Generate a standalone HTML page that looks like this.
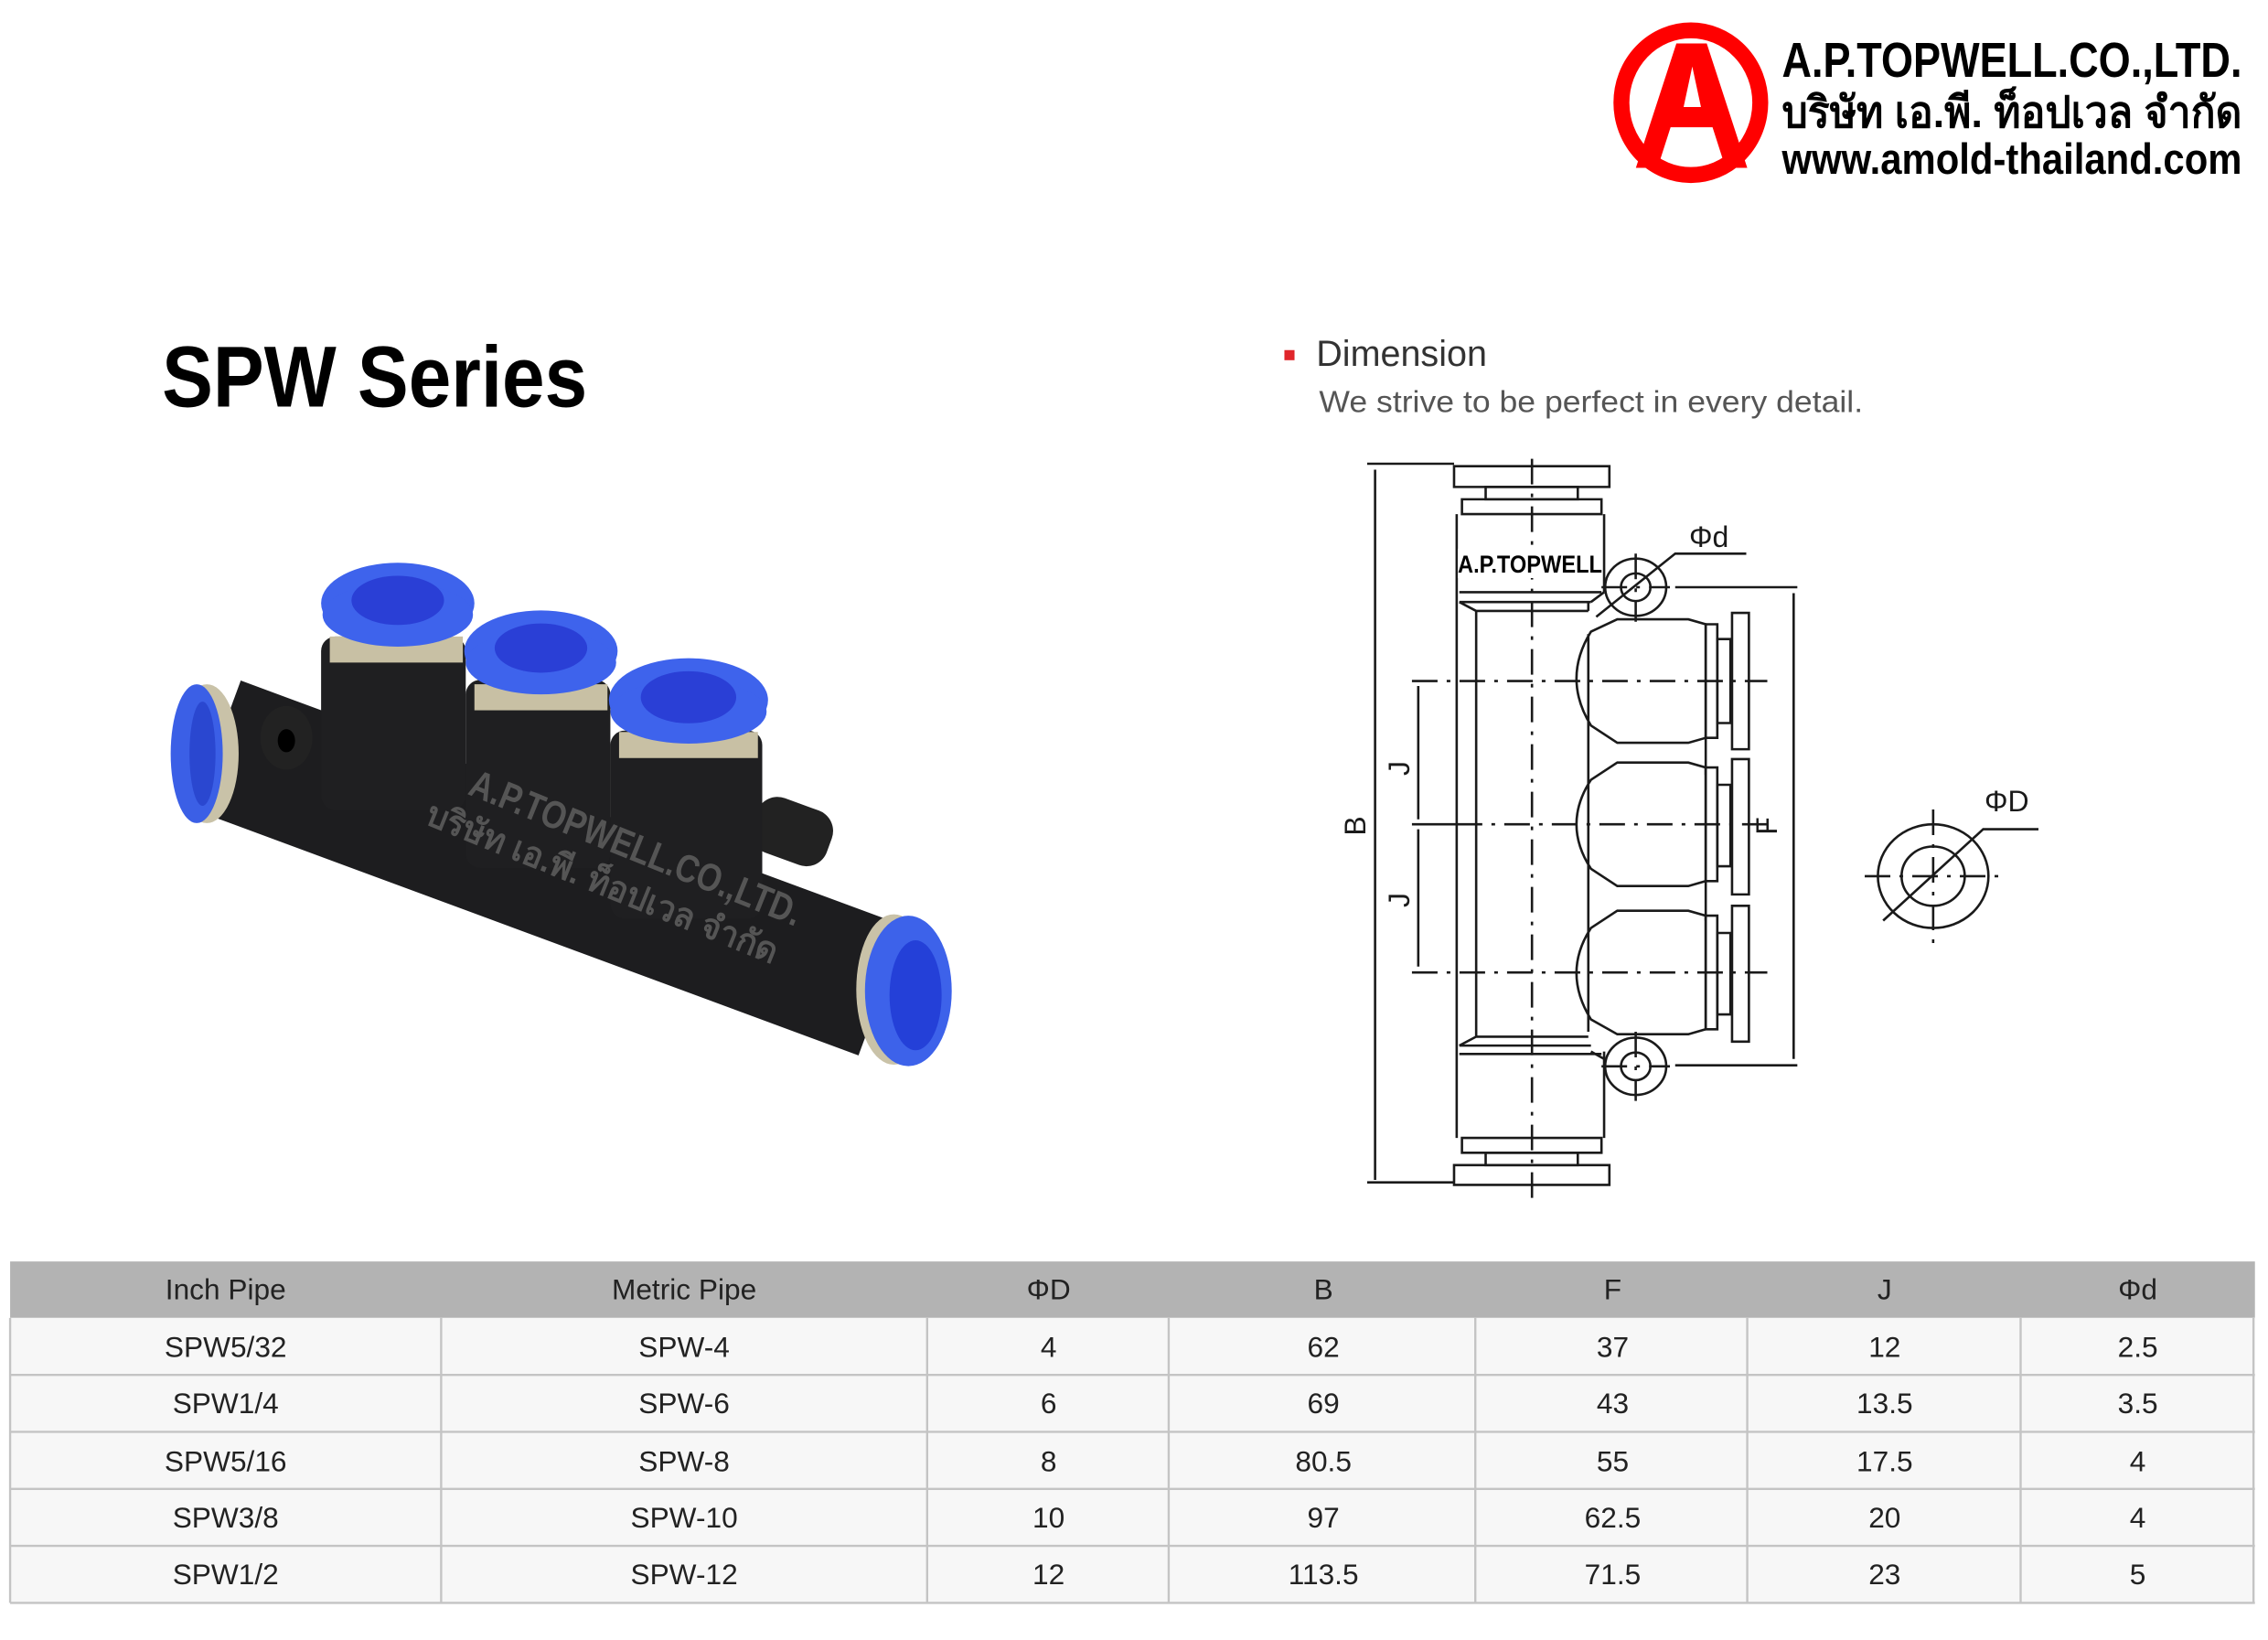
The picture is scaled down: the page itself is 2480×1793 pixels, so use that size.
<!DOCTYPE html>
<html><head><meta charset="utf-8"><style>
html,body{margin:0;padding:0;background:#fff;}
svg{display:block}
text{font-family:"Liberation Sans","DejaVu Sans",sans-serif}
</style></head><body>
<svg width="2480" height="1793" viewBox="0 0 2480 1793" xmlns="http://www.w3.org/2000/svg">
<rect width="2480" height="1793" fill="#fff"/>

<!-- display-coord group -->
<g transform="scale(1.5816)">
  <!-- logo -->
  <ellipse cx="1169" cy="71" rx="48" ry="50" fill="#fff" stroke="#f00" stroke-width="11"/>
  <polygon points="1159,30 1180,30 1208,116 1193,116 1184,88 1155,88 1146,116 1131,116" fill="#f00"/>
  <polygon points="1164,74 1170,46 1176,74" fill="#fff"/>
  <text x="1232" y="53" font-size="34" font-weight="bold" textLength="318" lengthAdjust="spacingAndGlyphs">A.P.TOPWELL.CO.,LTD.</text>
  <text x="1232" y="88" font-size="30" font-weight="bold" textLength="318" lengthAdjust="spacingAndGlyphs">บริษัท เอ.พี. ท็อปเวล จำกัด</text>
  <text x="1232" y="120" font-size="30" font-weight="bold" textLength="318" lengthAdjust="spacingAndGlyphs">www.amold-thailand.com</text>

  <text x="112" y="281" font-size="60" font-weight="bold" textLength="294" lengthAdjust="spacingAndGlyphs">SPW Series</text>

  <rect x="888" y="242" width="7" height="7" fill="#e0262b"/>
  <text x="910" y="253" font-size="25" fill="#333">Dimension</text>
  <text x="912" y="285" font-size="21" fill="#555" textLength="376" lengthAdjust="spacingAndGlyphs">We strive to be perfect in every detail.</text>

  <!-- product photo -->
  <g>
    <line x1="150" y1="515" x2="610" y2="685" stroke="#1d1d1f" stroke-width="95"/>
    <ellipse cx="143" cy="521" rx="22" ry="48" fill="#c9c2a8"/>
    <ellipse cx="136" cy="521" rx="18" ry="48" fill="#3b5fe6"/>
    <ellipse cx="140" cy="521" rx="9" ry="36" fill="#2a47d0"/>
    <ellipse cx="618" cy="684" rx="26" ry="52" fill="#c9c2a8"/>
    <ellipse cx="628" cy="685" rx="30" ry="52" fill="#3d62ea"/>
    <ellipse cx="633" cy="688" rx="18" ry="38" fill="#2440d8"/>
    <!-- tabs -->
    <ellipse cx="198" cy="510" rx="18" ry="22" fill="#222"/>
    <ellipse cx="198" cy="512" rx="6" ry="8" fill="#000"/>
    <rect x="520" y="555" width="55" height="40" rx="15" fill="#222" transform="rotate(20 548 575)"/>
    <!-- uprights -->
    <g fill="#1f1f21">
      <rect x="222" y="440" width="100" height="120" rx="10"/>
      <rect x="322" y="470" width="100" height="130" rx="10"/>
      <rect x="422" y="505" width="105" height="130" rx="10"/>
    </g>
    <g>
      <rect x="228" y="440" width="92" height="18" fill="#c8c0a4"/>
      <rect x="328" y="473" width="92" height="18" fill="#c8c0a4"/>
      <rect x="428" y="506" width="96" height="18" fill="#c8c0a4"/>
      <ellipse cx="275" cy="417" rx="53" ry="28" fill="#3e63ec"/>
      <ellipse cx="275" cy="425" rx="52" ry="22" fill="#3e63ec"/>
      <ellipse cx="275" cy="415" rx="32" ry="17" fill="#2a3fd6"/>
      <ellipse cx="374" cy="450" rx="53" ry="28" fill="#3e63ec"/>
      <ellipse cx="374" cy="458" rx="52" ry="22" fill="#3e63ec"/>
      <ellipse cx="374" cy="448" rx="32" ry="17" fill="#2a3fd6"/>
      <ellipse cx="476" cy="484" rx="55" ry="29" fill="#3e63ec"/>
      <ellipse cx="476" cy="492" rx="54" ry="22" fill="#3e63ec"/>
      <ellipse cx="476" cy="482" rx="33" ry="18" fill="#2a3fd6"/>
    </g>
    <g transform="rotate(22 420 615)" fill="#555" font-weight="bold">
      <text x="305" y="590" font-size="27" textLength="245" lengthAdjust="spacingAndGlyphs">A.P.TOPWELL.CO.,LTD.</text>
      <text x="285" y="620" font-size="24" textLength="260" lengthAdjust="spacingAndGlyphs">บริษัท เอ.พี. ท็อปเวล จำกัด</text>
    </g>
  </g>

  <!-- table -->
  <rect x="7" y="872" width="1552" height="39" fill="#b3b3b3"/>
  <rect x="7" y="911" width="1552" height="197" fill="#f7f7f7"/>
  <g stroke="#c4c4c4" stroke-width="1.5">
    <line x1="7" y1="950.4" x2="1559" y2="950.4"/>
    <line x1="7" y1="989.8" x2="1559" y2="989.8"/>
    <line x1="7" y1="1029.2" x2="1559" y2="1029.2"/>
    <line x1="7" y1="1068.6" x2="1559" y2="1068.6"/>
    <line x1="7" y1="1108" x2="1559" y2="1108"/>
    <line x1="7" y1="911" x2="7" y2="1108"/>
    <line x1="1558" y1="911" x2="1558" y2="1108"/>
    <line x1="305" y1="911" x2="305" y2="1108"/>
    <line x1="641" y1="911" x2="641" y2="1108"/>
    <line x1="808" y1="911" x2="808" y2="1108"/>
    <line x1="1020" y1="911" x2="1020" y2="1108"/>
    <line x1="1208" y1="911" x2="1208" y2="1108"/>
    <line x1="1397" y1="911" x2="1397" y2="1108"/>
  </g>
  <g font-size="20" fill="#222" text-anchor="middle">
    <text x="156" y="898">Inch Pipe</text><text x="473" y="898">Metric Pipe</text><text x="725" y="898">ΦD</text><text x="915" y="898">B</text><text x="1115" y="898">F</text><text x="1303" y="898">J</text><text x="1478" y="898">Φd</text>
    <text x="156" y="938">SPW5/32</text><text x="473" y="938">SPW-4</text><text x="725" y="938">4</text><text x="915" y="938">62</text><text x="1115" y="938">37</text><text x="1303" y="938">12</text><text x="1478" y="938">2.5</text>
    <text x="156" y="977">SPW1/4</text><text x="473" y="977">SPW-6</text><text x="725" y="977">6</text><text x="915" y="977">69</text><text x="1115" y="977">43</text><text x="1303" y="977">13.5</text><text x="1478" y="977">3.5</text>
    <text x="156" y="1017">SPW5/16</text><text x="473" y="1017">SPW-8</text><text x="725" y="1017">8</text><text x="915" y="1017">80.5</text><text x="1115" y="1017">55</text><text x="1303" y="1017">17.5</text><text x="1478" y="1017">4</text>
    <text x="156" y="1056">SPW3/8</text><text x="473" y="1056">SPW-10</text><text x="725" y="1056">10</text><text x="915" y="1056">97</text><text x="1115" y="1056">62.5</text><text x="1303" y="1056">20</text><text x="1478" y="1056">4</text>
    <text x="156" y="1095">SPW1/2</text><text x="473" y="1095">SPW-12</text><text x="725" y="1095">12</text><text x="915" y="1095">113.5</text><text x="1115" y="1095">71.5</text><text x="1303" y="1095">23</text><text x="1478" y="1095">5</text>
  </g>
</g>

<!-- technical drawing in zoom coords -->
<g transform="translate(1400,480) scale(0.5757,0.54)" fill="none" stroke="#1a1a1a" stroke-width="2.6">
  <g vector-effect="non-scaling-stroke">
  <!-- B dim -->
  <line x1="180" y1="62" x2="180" y2="1500" vector-effect="non-scaling-stroke"/>
  <line x1="165" y1="50" x2="330" y2="50" vector-effect="non-scaling-stroke"/>
  <line x1="165" y1="1505" x2="330" y2="1505" vector-effect="non-scaling-stroke"/>
  <!-- caps -->
  <rect x="330" y="55" width="295" height="42" vector-effect="non-scaling-stroke"/>
  <rect x="390" y="97" width="175" height="25" vector-effect="non-scaling-stroke"/>
  <rect x="345" y="122" width="265" height="30" vector-effect="non-scaling-stroke"/>
  <rect x="330" y="1470" width="295" height="40" vector-effect="non-scaling-stroke"/>
  <rect x="390" y="1445" width="175" height="25" vector-effect="non-scaling-stroke"/>
  <rect x="345" y="1415" width="265" height="30" vector-effect="non-scaling-stroke"/>
  <!-- body -->
  <path d="M335 152 V1415 M615 152 V310 M615 1240 V1415 M340 310 H610 M340 330 H590 M340 330 L372 348 M585 330 L585 348 M372 348 H585 M372 348 V1210 M372 1210 H585 M340 1228 L372 1210 M340 1228 H590 M340 1245 H610" vector-effect="non-scaling-stroke"/>
  <line x1="585" y1="395" x2="585" y2="1200" vector-effect="non-scaling-stroke"/>
  <line x1="808" y1="600" x2="808" y2="680" vector-effect="non-scaling-stroke"/>
  <line x1="808" y1="895" x2="808" y2="975" vector-effect="non-scaling-stroke"/>
  <!-- branches -->
  <g vector-effect="non-scaling-stroke">
    <path d="M590 390 L640 365 H775 L808 375 V605 L775 615 H640 L590 580 Q535 485 590 390 Z" vector-effect="non-scaling-stroke"/>
    <rect x="808" y="375" width="22" height="230" vector-effect="non-scaling-stroke"/>
    <rect x="830" y="405" width="25" height="170" vector-effect="non-scaling-stroke"/>
    <rect x="858" y="352" width="32" height="276" vector-effect="non-scaling-stroke"/>
    <path d="M590 690 L640 655 H775 L808 665 V895 L775 905 H640 L590 870 Q535 780 590 690 Z" vector-effect="non-scaling-stroke"/>
    <rect x="808" y="665" width="22" height="230" vector-effect="non-scaling-stroke"/>
    <rect x="830" y="700" width="25" height="165" vector-effect="non-scaling-stroke"/>
    <rect x="858" y="648" width="32" height="274" vector-effect="non-scaling-stroke"/>
    <path d="M590 990 L640 955 H775 L808 965 V1195 L775 1205 H640 L590 1175 Q535 1080 590 990 Z" vector-effect="non-scaling-stroke"/>
    <rect x="808" y="965" width="22" height="230" vector-effect="non-scaling-stroke"/>
    <rect x="830" y="1000" width="25" height="165" vector-effect="non-scaling-stroke"/>
    <rect x="858" y="945" width="32" height="275" vector-effect="non-scaling-stroke"/>
  </g>
  <!-- phi d circles -->
  <circle cx="675" cy="300" r="58" fill="#fff" vector-effect="non-scaling-stroke"/>
  <circle cx="675" cy="300" r="28" vector-effect="non-scaling-stroke"/>
  <circle cx="675" cy="1270" r="58" fill="#fff" vector-effect="non-scaling-stroke"/>
  <circle cx="675" cy="1270" r="28" vector-effect="non-scaling-stroke"/>
  <path d="M600 360 L750 232 H885" vector-effect="non-scaling-stroke"/>
  <path d="M590 330 L615 310 M590 1240 L615 1255" vector-effect="non-scaling-stroke"/>
  <!-- F dim -->
  <line x1="975" y1="312" x2="975" y2="1255" vector-effect="non-scaling-stroke"/>
  <line x1="750" y1="300" x2="982" y2="300" vector-effect="non-scaling-stroke"/>
  <line x1="750" y1="1268" x2="982" y2="1268" vector-effect="non-scaling-stroke"/>
  <!-- J dims -->
  <line x1="262" y1="500" x2="262" y2="770" vector-effect="non-scaling-stroke"/>
  <line x1="262" y1="790" x2="262" y2="1068" vector-effect="non-scaling-stroke"/>
  <line x1="250" y1="780" x2="335" y2="780" vector-effect="non-scaling-stroke"/>
  <g stroke-dasharray="28 10 4 10" vector-effect="non-scaling-stroke">
    <line x1="250" y1="490" x2="925" y2="490" vector-effect="non-scaling-stroke"/>
    <line x1="335" y1="780" x2="925" y2="780" vector-effect="non-scaling-stroke"/>
    <line x1="250" y1="1080" x2="925" y2="1080" vector-effect="non-scaling-stroke"/>
    <line x1="478" y1="40" x2="478" y2="1540" vector-effect="non-scaling-stroke"/>
    <line x1="675" y1="232" x2="675" y2="370" vector-effect="non-scaling-stroke"/>
    <line x1="610" y1="300" x2="740" y2="300" vector-effect="non-scaling-stroke"/>
    <line x1="675" y1="1200" x2="675" y2="1340" vector-effect="non-scaling-stroke"/>
    <line x1="610" y1="1270" x2="740" y2="1270" vector-effect="non-scaling-stroke"/>
    <line x1="1110" y1="885" x2="1370" y2="885" vector-effect="non-scaling-stroke"/>
    <line x1="1240" y1="750" x2="1240" y2="1025" vector-effect="non-scaling-stroke"/>
  </g>
  <!-- phi D -->
  <circle cx="1240" cy="885" r="105" vector-effect="non-scaling-stroke"/>
  <circle cx="1240" cy="885" r="60" vector-effect="non-scaling-stroke"/>
  <path d="M1145 975 L1335 790 H1440" vector-effect="non-scaling-stroke"/>
  </g>
</g>
<rect x="1594" y="600" width="158" height="32" fill="#fff"/>
<text x="1594" y="626" font-size="27" font-weight="bold" textLength="158" lengthAdjust="spacingAndGlyphs">A.P.TOPWELL</text>
<g font-size="32" fill="#1a1a1a">
  <text x="1847" y="598">Φd</text>
  <text x="2170" y="887">ΦD</text>
  <text transform="translate(1493,903) rotate(-90)" text-anchor="middle">B</text>
  <text transform="translate(1541,840) rotate(-90)" text-anchor="middle">J</text>
  <text transform="translate(1541,984) rotate(-90)" text-anchor="middle">J</text>
  <text transform="translate(1943,903) rotate(-90)" text-anchor="middle">F</text>
</g>
</svg>
</body></html>
